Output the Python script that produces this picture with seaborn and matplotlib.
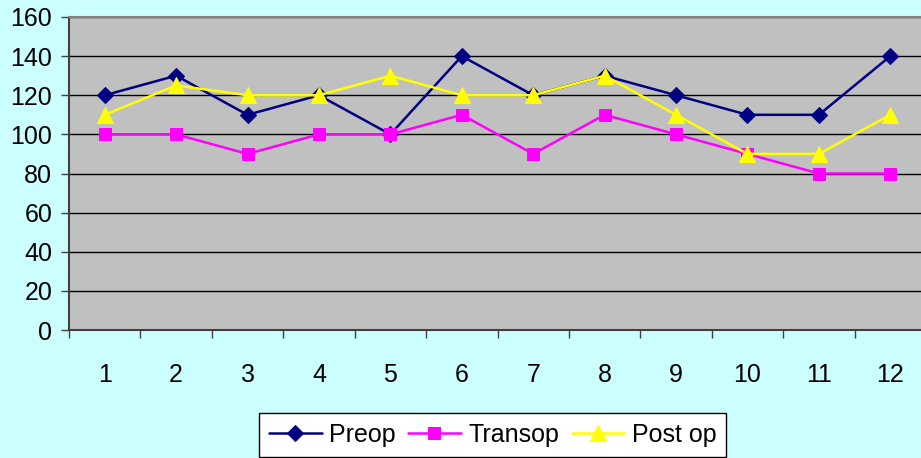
import matplotlib
matplotlib.use("Agg")
import matplotlib.pyplot as plt
import seaborn as sns
import pandas as pd
from matplotlib.ticker import FixedLocator, NullFormatter

# Measurements per patient
patients = list(range(1, 13))
preop = [120, 130, 110, 120, 100, 140, 120, 130, 120, 110, 110, 140]
transop = [100, 100, 90, 100, 100, 110, 90, 110, 100, 90, 80, 80]
postop = [110, 125, 120, 120, 130, 120, 120, 130, 110, 90, 90, 110]
series_names = ["Preop", "Transop", "Post op"]
y_ticks = [0, 20, 40, 60, 80, 100, 120, 140, 160]

sns.set_theme(style="white")
plt.rcParams["font.family"] = ["Liberation Sans", "DejaVu Sans"]

df = pd.DataFrame({"patient": patients, "Preop": preop,
                   "Transop": transop, "Post op": postop})

fig = plt.figure(figsize=(9.21, 4.58), dpi=100, facecolor="#CCFFFF")
W, H = 921, 458
ax = fig.add_axes([69 / W, (H - 330) / H, (926 - 69) / W, (330 - 17) / H])
ax.set_facecolor("#C0C0C0")

styles = {
    "Preop": dict(color="#000080", marker="D", markersize=8.5),
    "Transop": dict(color="#FF00FF", marker="s", markersize=9),
    "Post op": dict(color="#FFFF00", marker="^", markersize=11),
}
for name in series_names:
    st = styles[name]
    sns.lineplot(data=df, x="patient", y=name, ax=ax, color=st["color"],
                 marker=st["marker"], markersize=st["markersize"],
                 markeredgecolor=st["color"], linewidth=1.8, label=name,
                 legend=False)

ax.set_xlim(0.5, 12.5)
ax.set_ylim(0, 160)
ax.set_xlabel("")
ax.set_ylabel("")

ax.set_yticks(y_ticks)
ax.yaxis.grid(True, color="black", linewidth=1)
ax.xaxis.grid(False)
ax.tick_params(axis="y", which="major", left=True, length=6, width=1,
               color="#404040", labelsize=18, labelcolor="black", pad=6)

# category boundaries carry tick marks, centers carry the labels
ax.xaxis.set_major_locator(FixedLocator([i + 0.5 for i in range(0, 13)]))
ax.xaxis.set_major_formatter(NullFormatter())
ax.xaxis.set_minor_locator(FixedLocator(patients))
ax.set_xticklabels([str(p) for p in patients], minor=True)
ax.tick_params(axis="x", which="major", bottom=True, length=6, width=1,
               color="#404040")
ax.tick_params(axis="x", which="minor", bottom=True, length=0,
               labelsize=18, labelcolor="black", pad=24)

for side in ["left", "bottom"]:
    ax.spines[side].set_color("#404040")
    ax.spines[side].set_linewidth(1.5)
ax.spines["top"].set_color("#808080")
ax.spines["top"].set_linewidth(1.5)
ax.spines["right"].set_visible(False)

handles, labels = ax.get_legend_handles_labels()
leg = fig.legend(handles, labels, loc="upper left",
                 bbox_to_anchor=(259 / W, (H - 413) / H), ncol=3,
                 fontsize=18, frameon=True, fancybox=False, framealpha=1,
                 edgecolor="black", facecolor="white", handlelength=2.1,
                 handletextpad=0.3, columnspacing=0.5, borderpad=0.4,
                 borderaxespad=0)
leg.get_frame().set_linewidth(1)
for t in leg.get_texts():
    t.set_color("black")

fig.savefig("out.png", dpi=100, facecolor=fig.get_facecolor())
